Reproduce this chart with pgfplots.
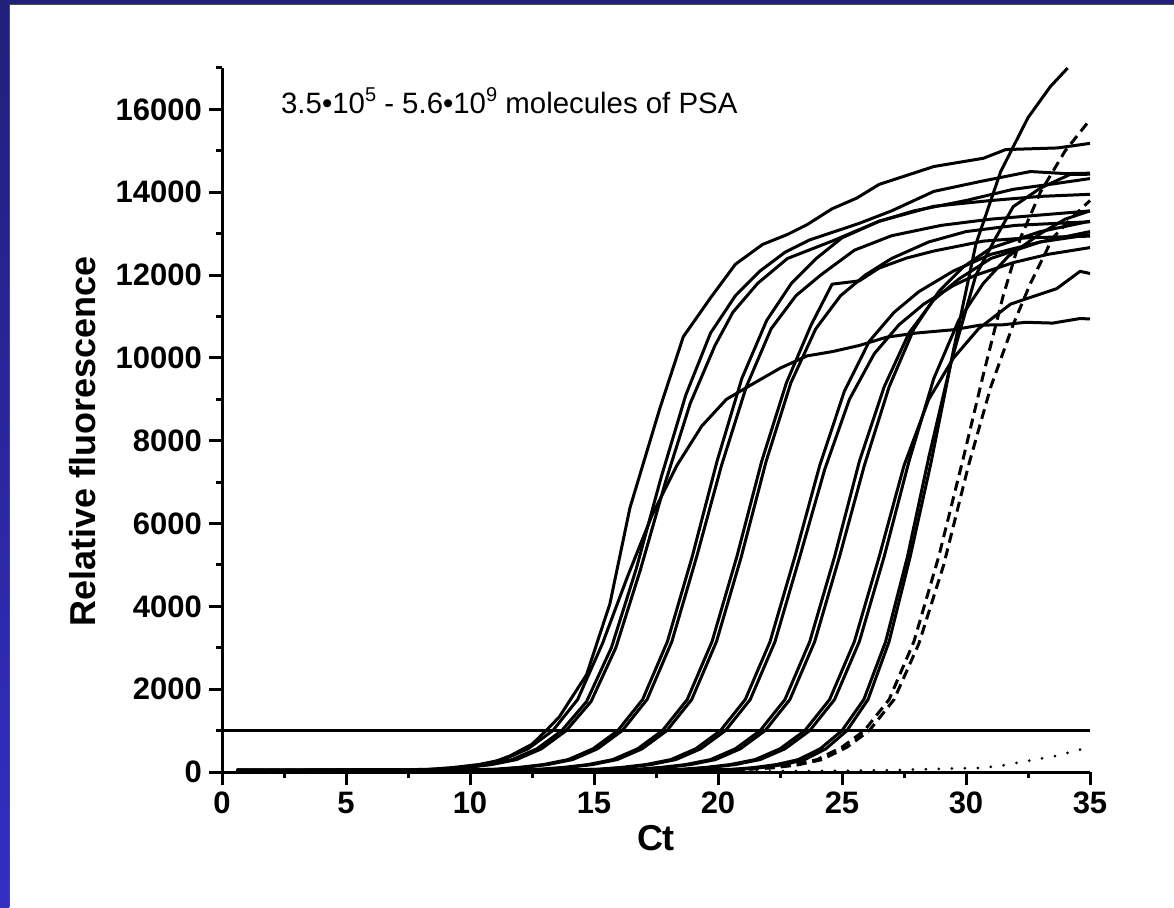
\documentclass[border=0pt]{standalone}
\usepackage{fontspec}
\setmainfont{Liberation Sans}
\usepackage{pgfplots}
\pgfplotsset{compat=1.18}

\definecolor{navy}{RGB}{32,32,122}
\definecolor{frameblue}{RGB}{52,46,196}

\tikzset{
  curve/.style={black, line width=1.5pt, line join=round},
  dashcurve/.style={curve, dash pattern=on 5pt off 3pt},
  dotcurve/.style={black, line width=1.5pt, line cap=round, dash pattern=on 0pt off 6.5pt},
}

\begin{document}
\begin{tikzpicture}
  % slide background with the blue frame at left and top
  \fill[white] (0,0) rectangle (587pt,453.5pt);
  \shade[top color=navy, bottom color=frameblue] (0,0) rectangle (4.6pt,453.5pt);
  \fill[navy] (0,451.6pt) rectangle (587pt,453.5pt);
  \draw[gray!60!black, line width=0.6pt] (4.9pt,0) -- (4.9pt,451.3pt) -- (587pt,451.3pt);

  \begin{axis}[
    at={(111pt,67.5pt)}, anchor=south west,
    scale only axis, width=434pt, height=352pt,
    xmin=0, xmax=35, ymin=0, ymax=17000,
    clip=false,
    axis lines=left,
    axis line style={line width=1.5pt, -},
    xtick={0,5,...,35},
    minor xtick={2.5,7.5,...,32.5},
    ytick={0,2000,...,16000},
    minor ytick={1000,3000,...,17000},
    tick align=outside,
    major tick length=6.5pt,
    minor tick length=3pt,
    tick style={line width=1.5pt, black},
    scaled y ticks=false,
    /pgf/number format/assume math mode=true,
    /pgf/number format/set thousands separator={},
    ticklabel style={font=\bfseries\fontsize{15.5}{18}\selectfont},
    xlabel={Ct},
    ylabel={Relative fluorescence},
    label style={font=\bfseries\fontsize{18}{21}\selectfont},
    xlabel style={at={(axis description cs:0.5,-0.094)}, anchor=center},
    ylabel style={at={(axis description cs:-0.16,0.47)}, anchor=center},
  ]

    % threshold
    \addplot[curve] coordinates {(0,1000) (35,1000)};

    % early group
    \addplot[curve] coordinates {(0.6,40) (5,20) (8,40) (10,100) (11,250) (11.6,385) (12.5,670) (13.07,1000) (13.6,1330) (14.7,2350) (15.64,4060) (16.45,6380) (17.66,8790) (18.6,10510) (19.7,11450) (20.7,12260) (21.8,12740) (22.8,12980) (23.6,13220) (24.6,13600) (25.6,13860) (26.5,14190) (28.7,14620) (30.7,14820) (31.6,15030) (33.7,15070) (35,15180)};
    \addplot[curve] coordinates {(0.6,40) (6.34,45) (8.34,65) (9.34,110) (10.34,180) (11.34,300) (12.34,560) (13.34,1000) (14.34,1750) (15.34,3100) (16.34,4700) (17.34,6200) (18.34,7400) (19.34,8350) (20.34,9000) (21.34,9350) (22.5,9750) (23.6,10050) (24.6,10150) (25.7,10300) (26.8,10500) (28,10600) (29.5,10680) (30.56,10790) (31.5,10800) (32.4,10860) (33.5,10840) (34.6,10950) (35,10940)};
    \addplot[curve] coordinates {(0.6,40) (6.7,45) (8.7,65) (9.7,110) (10.7,180) (11.7,300) (12.7,560) (13.7,1000) (14.7,1700) (15.7,3000) (16.7,4900) (17.7,7100) (18.7,9100) (19.7,10600) (20.7,11500) (21.7,12100) (22.7,12550) (23.7,12850) (24.7,13050) (25.7,13250) (27,13550) (28.7,14020) (30.5,14250) (32.6,14500) (34,14450) (35,14460)};
    \addplot[curve] coordinates {(0.6,40) (6.88,45) (8.88,65) (9.88,110) (10.88,180) (11.88,300) (12.88,560) (13.88,1000) (14.88,1700) (15.88,3000) (16.88,4900) (17.88,7000) (18.88,8900) (19.88,10300) (20.6,11100) (21.6,11800) (22.8,12400) (24.6,12820) (26.5,13300) (28.7,13660) (31,13800) (33,13900) (35,13950)};

    % Ct 16
    \addplot[curve] coordinates {(0.6,40) (8.96,45) (10.96,65) (11.96,110) (12.96,180) (13.96,300) (14.96,560) (15.96,1000) (16.96,1750) (17.96,3150) (18.96,5200) (19.96,7500) (20.96,9500) (21.96,10900) (22.96,11800) (23.96,12400) (25,12900) (26.5,13300) (27.9,13550) (30,13800) (31.9,14070) (33.5,14200) (35,14330)};
    \addplot[curve] coordinates {(0.6,40) (9.14,45) (11.14,65) (12.14,110) (13.14,180) (14.14,300) (15.14,560) (16.14,1000) (17.14,1750) (18.14,3150) (19.14,5200) (20.14,7400) (21.14,9300) (22.14,10700) (23.14,11500) (24.14,12000) (25.5,12600) (27,12950) (29,13200) (31,13350) (33,13450) (35,13549)};

    % Ct 18
    \addplot[curve] coordinates {(0.6,40) (10.76,45) (12.76,65) (13.76,110) (14.76,180) (15.76,300) (16.76,560) (17.76,1000) (18.76,1750) (19.76,3150) (20.76,5200) (21.76,7500) (22.76,9400) (23.76,10800) (24.6,11780) (25.7,11860) (26.5,12170) (27.6,12410) (28.7,12580) (30.7,12820) (32.5,12900) (35,12940)};
    \addplot[curve] coordinates {(0.6,40) (10.94,45) (12.94,65) (13.94,110) (14.94,180) (15.94,300) (16.94,560) (17.94,1000) (18.94,1750) (19.94,3150) (20.94,5200) (21.94,7500) (22.94,9400) (23.94,10700) (24.94,11500) (25.94,12000) (27,12400) (28.5,12800) (30,13050) (32,13200) (35,13288)};

    % Ct 20
    \addplot[curve] coordinates {(0.6,40) (13.1,45) (15.1,65) (16.1,110) (17.1,180) (18.1,300) (19.1,560) (20.1,1000) (21.1,1750) (22.1,3150) (23.1,5200) (24.1,7400) (25.1,9200) (26.1,10400) (27.1,11100) (28.1,11600) (29.5,12100) (31,12500) (33,12800) (35,12976)};
    \addplot[curve] coordinates {(0.6,40) (13.3,45) (15.3,65) (16.3,110) (17.3,180) (18.3,300) (19.3,560) (20.3,1000) (21.3,1750) (22.3,3150) (23.3,5200) (24.3,7300) (25.3,9000) (26.3,10100) (27.3,10800) (28.3,11300) (29.5,11750) (30.4,12000) (31.9,12300) (33.3,12500) (35,12663)};

    % Ct 22
    \addplot[curve] coordinates {(0.6,40) (14.7,45) (16.7,65) (17.7,110) (18.7,180) (19.7,300) (20.7,560) (21.7,1000) (22.7,1750) (23.7,3150) (24.7,5200) (25.7,7500) (26.7,9300) (27.7,10600) (28.7,11400) (29.7,11900) (31,12400) (33,12800) (35,13050)};
    \addplot[curve] coordinates {(0.6,40) (14.9,45) (16.9,65) (17.9,110) (18.9,180) (19.9,300) (20.9,560) (21.9,1000) (22.9,1750) (23.9,3150) (24.9,5200) (25.9,7400) (26.9,9300) (27.9,10700) (28.9,11600) (29.9,12200) (31,12650) (33,13050) (35,13300)};

    % Ct 23.5
    \addplot[curve] coordinates {(0.6,40) (16.5,45) (18.5,65) (19.5,110) (20.5,180) (21.5,300) (22.5,560) (23.5,1000) (24.5,1750) (25.5,3150) (26.5,5200) (27.5,7400) (28.5,9000) (29.5,10000) (30.5,10700) (31.8,11300) (33.66,11673) (34.6,12090) (35,12038)};
    \addplot[curve] coordinates {(0.6,40) (16.7,45) (18.7,65) (19.7,110) (20.7,180) (21.7,300) (22.7,560) (23.7,1000) (24.7,1750) (25.7,3150) (26.7,5200) (27.7,7500) (28.7,9500) (29.7,10900) (30.7,11800) (31.7,12450) (33,13000) (34,13350) (35,13549)};

    % Ct 25
    \addplot[curve] coordinates {(0.6,40) (18.84,45) (20.6,65) (21.48,110) (22.36,180) (23.24,300) (24.12,560) (25,1000) (25.88,1750) (26.76,3150) (27.64,5200) (28.5,7600) (29.4,9900) (30.4,12000) (31.2,12900) (31.9,13650) (33,14100) (34.2,14430) (35,14435)};
    \addplot[curve] coordinates {(0.6,40) (19.25,45) (20.95,65) (21.8,110) (22.65,180) (23.5,300) (24.35,560) (25.2,1000) (26.05,1750) (26.9,3150) (27.75,5200) (28.6,7500) (29.5,10200) (30.4,12750) (31.4,14500) (32.5,15800) (33.4,16550) (34.1,17000)};

    % dashed
    \addplot[dashcurve] coordinates {(0.6,40) (19,45) (21,65) (22,100) (23,170) (24,300) (25,600) (25.9,1000) (26.9,1750) (27.9,3150) (28.9,5200) (29.9,7600) (30.7,9600) (31.5,11500) (32.2,12900) (33,14000) (34,15000) (35,15750)};
    \addplot[dashcurve] coordinates {(0.6,40) (19.2,45) (21.2,65) (22.2,100) (23.2,170) (24.2,300) (25.2,600) (26.1,1000) (27.1,1750) (28.1,3100) (29.1,5000) (30.1,7400) (31,9300) (31.9,10800) (32.6,11800) (33.5,12900) (34.3,13400) (35,13800)};

    % dotted
    \addplot[dotcurve] coordinates {(0.6,20) (22,20) (25,30) (27,45) (28.8,74) (30.6,98) (31.5,160) (32.4,262) (33.6,385) (34.9,590) (35,600)};

    \node[anchor=base west, font=\fontsize{14.7}{18}\selectfont] at (axis cs:2.1,15900)
      {3.5•10\raisebox{0.42em}{\fontsize{10}{12}\selectfont 5} - 5.6•10\raisebox{0.42em}{\fontsize{10}{12}\selectfont 9} molecules of PSA};
  \end{axis}
  \pgfresetboundingbox
  \path (0,0) rectangle (587pt,453.5pt);
\end{tikzpicture}
\end{document}
